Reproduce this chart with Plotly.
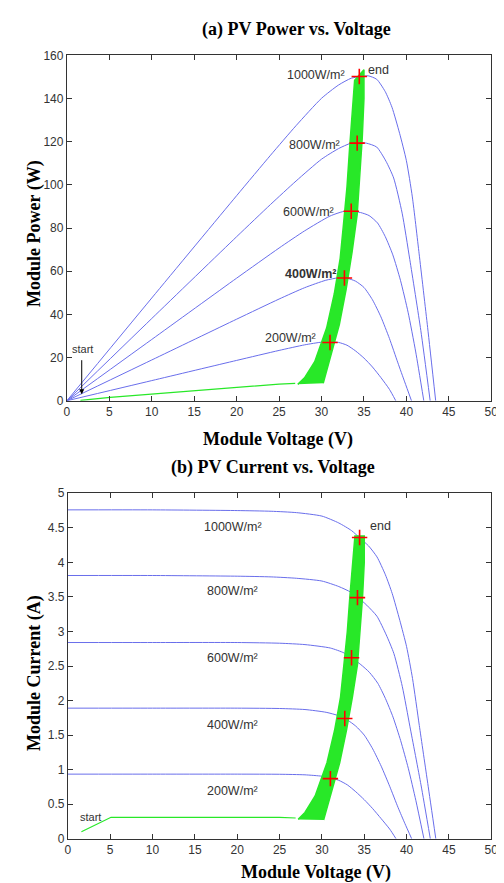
import plotly.graph_objects as go

W, H = 504, 883

# ---------------- data ----------------
irr_names = ["200", "400", "600", "800", "1000"]

# I-V curves (voltage V, current A)
v_200 = [0, 10, 20, 25, 28, 30, 31, 32, 33, 34, 35, 36, 37, 38, 38.75]
i_200 = [0.935, 0.935, 0.935, 0.933, 0.925, 0.905, 0.88, 0.845, 0.78, 0.68, 0.565, 0.435, 0.29, 0.14, 0]

v_400 = [0, 10, 20, 25, 28, 30.5, 32, 33, 34, 35, 36, 37, 38, 39, 39.8, 40.6]
i_400 = [1.89, 1.89, 1.89, 1.885, 1.87, 1.83, 1.78, 1.72, 1.63, 1.50, 1.30, 1.05, 0.76, 0.45, 0.22, 0]

v_600 = [0, 10, 20, 25, 28, 31, 32.6, 33.6, 34.6, 35.6, 36.6, 37.5, 38.4, 39.3, 40.2, 41.1, 42.05]
i_600 = [2.84, 2.84, 2.84, 2.83, 2.81, 2.76, 2.69, 2.61, 2.52, 2.41, 2.25, 2.03, 1.76, 1.42, 1.02, 0.55, 0]

v_800 = [0, 10, 20, 24, 27, 30, 32, 33.4, 34.2, 35.3, 36.5, 37.6, 38.5, 39.5, 40.4, 41.7, 42.8]
i_800 = [3.81, 3.81, 3.80, 3.79, 3.77, 3.73, 3.65, 3.57, 3.50, 3.38, 3.22, 2.95, 2.68, 2.20, 1.62, 0.78, 0]

v_1000 = [0, 10, 20, 24, 27, 30, 32, 33.5, 34.5, 35.5, 36.5, 37.5, 38.3, 39.2, 40.0, 40.7, 41.5, 42.5, 43.45]
i_1000 = [4.76, 4.76, 4.75, 4.74, 4.72, 4.67, 4.57, 4.46, 4.35, 4.24, 4.08, 3.82, 3.55, 3.16, 2.78, 2.32, 1.64, 0.80, 0]

# maximum power points (red +)
mpp_v = [31.0, 32.7, 33.5, 34.2, 34.45]
mpp_i = [0.87, 1.74, 2.62, 3.49, 4.36]

# MPPT trajectory: start segment
start_v = [1.6, 5.1, 25.0, 26.9]
start_i = [0.10, 0.31, 0.31, 0.30]

# MPPT oscillation band edges
band_left_v = [27.2, 28.0, 29.2, 30.6, 31.5, 32.2, 32.6, 33.0, 33.3, 33.6, 33.9]
band_left_i = [0.28, 0.38, 0.62, 1.10, 1.57, 2.05, 2.52, 3.00, 3.50, 4.00, 4.38]
band_right_v = [35.0, 35.0, 34.8, 34.5, 34.2, 33.6, 32.9, 32.1, 31.0, 30.2]
band_right_i = [4.38, 4.00, 3.50, 3.00, 2.52, 2.05, 1.57, 1.10, 0.62, 0.27]

x_ticks = [0, 5, 10, 15, 20, 25, 30, 35, 40, 45, 50]
p_ticks = [0, 20, 40, 60, 80, 100, 120, 140, 160]
i_ticks = [0, 0.5, 1, 1.5, 2, 2.5, 3, 3.5, 4, 4.5, 5]
i_tick_text = ["0", "0.5", "1", "1.5", "2", "2.5", "3", "3.5", "4", "4.5", "5"]

# label positions (data coords)
top_label_x = [29.6, 31.9, 31.7, 32.4, 33.0]
top_label_y = [29, 58.7, 87.5, 118.6, 151]
bot_label_x = [19.5, 19.5, 19.5, 19.5, 19.5]
bot_label_y = [0.69, 1.64, 2.62, 3.59, 4.51]

curves_v = [v_200, v_400, v_600, v_800, v_1000]
curves_i = [i_200, i_400, i_600, i_800, i_1000]


def mul(a, b):
    return [x * y for x, y in zip(a, b)]


BLUE = "rgb(105,110,235)"
GREEN = "rgb(40,232,40)"
TXT = "#333333"

fig = go.Figure()

band_v = band_left_v + band_right_v
band_i = band_left_i + band_right_i

for row, (xa, ya) in enumerate([("x", "y"), ("x2", "y2")]):
    power = row == 0
    for cv, ci in zip(curves_v, curves_i):
        fig.add_trace(go.Scatter(
            x=cv, y=mul(cv, ci) if power else ci, xaxis=xa, yaxis=ya,
            mode="lines", line=dict(color=BLUE, width=1, shape="spline", smoothing=0.6),
            hoverinfo="skip", showlegend=False))
    fig.add_trace(go.Scatter(
        x=start_v, y=mul(start_v, start_i) if power else start_i, xaxis=xa, yaxis=ya,
        mode="lines", line=dict(color=GREEN, width=1.2), showlegend=False))
    fig.add_trace(go.Scatter(
        x=band_v, y=mul(band_v, band_i) if power else band_i, xaxis=xa, yaxis=ya,
        mode="lines", fill="toself", fillcolor=GREEN,
        line=dict(color=GREEN, width=1.5), showlegend=False))
    fig.add_trace(go.Scatter(
        x=mpp_v, y=mul(mpp_v, mpp_i) if power else mpp_i, xaxis=xa, yaxis=ya,
        mode="markers",
        marker=dict(symbol="cross-thin", size=11, line=dict(color="red", width=1.6)),
        showlegend=False))


def px_x(px):
    return px / W


def px_y(py):
    return 1 - py / H


axis_common = dict(
    showline=True, linecolor="#333", linewidth=1, mirror="ticks",
    ticks="inside", ticklen=5, tickcolor="#333", showgrid=False, zeroline=False,
    tickfont=dict(family="Liberation Sans, Arial", size=12, color=TXT),
)

fig.update_layout(
    width=W, height=H, margin=dict(l=0, r=0, t=0, b=0),
    paper_bgcolor="white", plot_bgcolor="white", showlegend=False,
    xaxis=dict(domain=[px_x(57), px_x(490)], range=[0, 50], tickvals=x_ticks,
               anchor="y", **axis_common),
    yaxis=dict(domain=[px_y(392), px_y(41)], range=[0, 160], tickvals=p_ticks,
               anchor="x", **axis_common),
    xaxis2=dict(domain=[px_x(58), px_x(490)], range=[0, 50], tickvals=x_ticks,
                anchor="y2", **axis_common),
    yaxis2=dict(domain=[px_y(837), px_y(486)], range=[0, 5], tickvals=i_ticks,
                ticktext=i_tick_text, anchor="x2", **axis_common),
)

serif = dict(family="Liberation Serif, Times New Roman", size=18, color="black")
ann = []


def title(text, px, py, angle=0):
    ann.append(dict(text="<b>%s</b>" % text, x=px_x(px), y=px_y(py), xref="paper",
                    yref="paper", showarrow=False, xanchor="center", yanchor="middle",
                    textangle=angle, font=serif))


title("(a) PV Power vs. Voltage", 291, 15)
title("Module Voltage (V)", 272, 431)
title("(b) PV Current vs. Voltage", 267, 460)
title("Module Voltage (V)", 311, 871)
title("Module Power (W)", 24, 222, -90)
title("Module Current (A)", 24, 669, -90)

lab_font = dict(family="Liberation Sans, Arial", size=12.5, color=TXT)
for k, name in enumerate(irr_names):
    txt = "%sW/m²" % name
    top_font = dict(lab_font)
    if name == "400":
        txt = "<b>%s</b>" % txt
    ann.append(dict(text=txt, x=top_label_x[k], y=top_label_y[k], xref="x", yref="y",
                    showarrow=False, xanchor="right", yanchor="middle", font=top_font))
    ann.append(dict(text="%sW/m²" % name, x=bot_label_x[k], y=bot_label_y[k],
                    xref="x2", yref="y2", showarrow=False, xanchor="center",
                    yanchor="middle", font=lab_font))

ann.append(dict(text="end", x=35.3, y=153, xref="x", yref="y", showarrow=False,
                xanchor="left", yanchor="middle", font=lab_font))
ann.append(dict(text="end", x=35.5, y=4.53, xref="x2", yref="y2", showarrow=False,
                xanchor="left", yanchor="middle", font=lab_font))
ann.append(dict(text="start", x=0.35, y=24, xref="x", yref="y", showarrow=False,
                xanchor="left", yanchor="middle", font=dict(lab_font, size=11)))
ann.append(dict(text="start", x=2.7, y=0.31, xref="x2", yref="y2", showarrow=False,
                xanchor="center", yanchor="middle", font=dict(lab_font, size=11)))
ann.append(dict(text="", x=1.75, y=3.0, ax=1.75, ay=19.5, xref="x", yref="y",
                axref="x", ayref="y", showarrow=True, arrowhead=2, arrowsize=1,
                arrowwidth=1, arrowcolor="black"))

fig.update_layout(annotations=ann)
fig.write_html("out.html")
